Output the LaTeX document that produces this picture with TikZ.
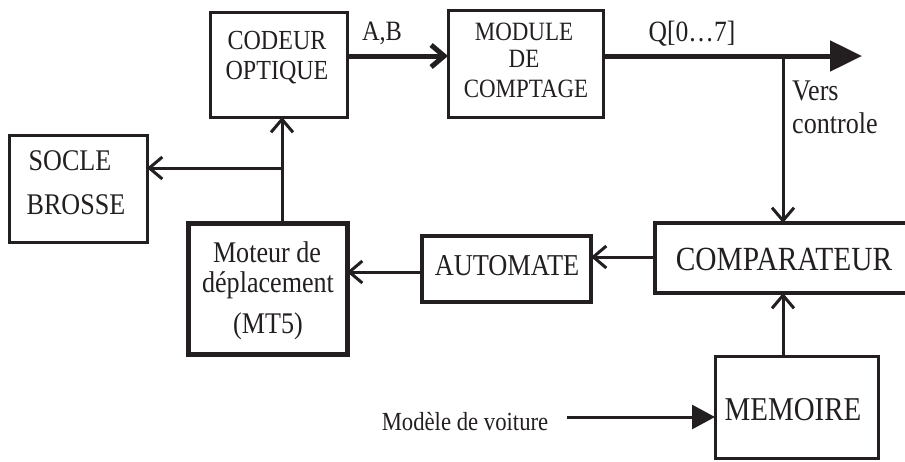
\documentclass[tikz,border=0pt]{standalone}
\usepackage{fontspec}
\setmainfont[FakeStretch=0.87]{Liberation Serif}
\usetikzlibrary{arrows.meta}
\definecolor{ink}{HTML}{231F20}
\newcommand\setfs[1]{\fontsize{#1}{#1}\selectfont}
\begin{document}
\begin{tikzpicture}[x=1pt,y=-1pt,
  box/.style={draw=ink,rectangle,inner sep=0pt,outer sep=0pt,line join=miter},
  txt/.style={inner sep=0pt,anchor=base,text=ink},
  thin/.style={draw=ink,line width=3pt},
  thick/.style={draw=ink,line width=5pt},
  obar/.style={-{Straight Barb[length=13pt,width=22pt]}},
  ftri/.style={-{Triangle[length=32pt,width=30pt]}},
  stri/.style={-{Triangle[length=23pt,width=24pt]}}]
\useasboundingbox (0,0) rectangle (905,461);
\clip (0,0) rectangle (905,461);
% boxes
\node[box,line width=3pt,minimum width=137pt,minimum height=105pt] (cod) at (278.5,64.5) {};
\node[box,line width=3pt,minimum width=155pt,minimum height=107pt] (mod) at (525.5,63.5) {};
\node[box,line width=3pt,minimum width=138pt,minimum height=107pt] (socle) at (78,188.5) {};
\node[box,line width=5pt,minimum width=159pt,minimum height=131pt] (mot) at (267.5,288.5) {};
\node[box,line width=4.5pt,minimum width=169pt,minimum height=66pt] (auto) at (506.5,269) {};
\node[box,line width=3.5pt,minimum width=258pt,minimum height=70pt] (comp) at (784,258) {};
\node[box,line width=3pt,minimum width=163pt,minimum height=102pt] (mem) at (796.5,407) {};
% texts
\node[txt,font=\setfs{27.6}] (codA) at (277,49) {CODEUR};
\node[txt,font=\setfs{27.6}] (codB) at (277,79) {OPTIQUE};
\node[txt,font=\setfs{26.4}] (modA) at (524,40) {MODULE};
\node[txt,font=\setfs{26.4}] (modB) at (524,67) {DE};
\node[txt,font=\setfs{26.4}] (modC) at (526,97) {COMPTAGE};
\node[txt,font=\setfs{28}] (ab) at (382,40) {A,B};
\node[txt,font=\setfs{29.4}] (q) at (692,41) {Q[0…7]};
\node[txt,font=\setfs{30},anchor=base west] (versA) at (792,100) {Vers};
\node[txt,font=\setfs{30},anchor=base west] (versB) at (792,133) {controle};
\node[txt,font=\setfs{30}] (socA) at (70,170) {SOCLE};
\node[txt,font=\setfs{30}] (socB) at (76,214) {BROSSE};
\node[txt,font=\setfs{30}] (motA) at (267,262) {Moteur de};
\node[txt,font=\setfs{30}] (motB) at (268,292) {déplacement};
\node[txt,font=\setfs{30}] (motC) at (268,333) {(MT5)};
\node[txt,font=\setfs{30.3}] (autoT) at (507,275) {AUTOMATE};
\node[txt,font=\setfs{33.8}] (compT) at (784,270) {COMPARATEUR};
\node[txt,font=\setfs{33.3}] (memT) at (793,420) {MEMOIRE};
\node[txt,font=\setfs{26.1}] (model) at (465,430) {Modèle de voiture};
% junctions
\coordinate (jq) at (783,56);
\coordinate (qend) at (862,56);
\coordinate (js) at (282,168);
\coordinate (ms) at (567,417);
% connectors
\draw[thick,obar] (cod.east |- jq) -- (mod.west |- jq);
\draw[thick,ftri] (mod.east |- jq) -- (qend);
\draw[thin,obar] (jq) -- (jq |- comp.north);
\draw[thin,obar] (mem.north -| jq) -- (comp.south -| jq);
\draw[thin,obar] ([yshift=1pt]comp.west) -- ([yshift=1pt]auto.east |- comp.west);
\draw[thin,obar] ([yshift=-3pt]auto.west) -- ([yshift=-3pt]mot.east |- auto.west);
\draw[thin,obar] (mot.north -| js) -- (cod.south -| js);
\draw[thin,obar] (js) -- (socle.east |- js);
\draw[thin,stri] (ms) -- (mem.west |- ms);
\end{tikzpicture}
\end{document}
